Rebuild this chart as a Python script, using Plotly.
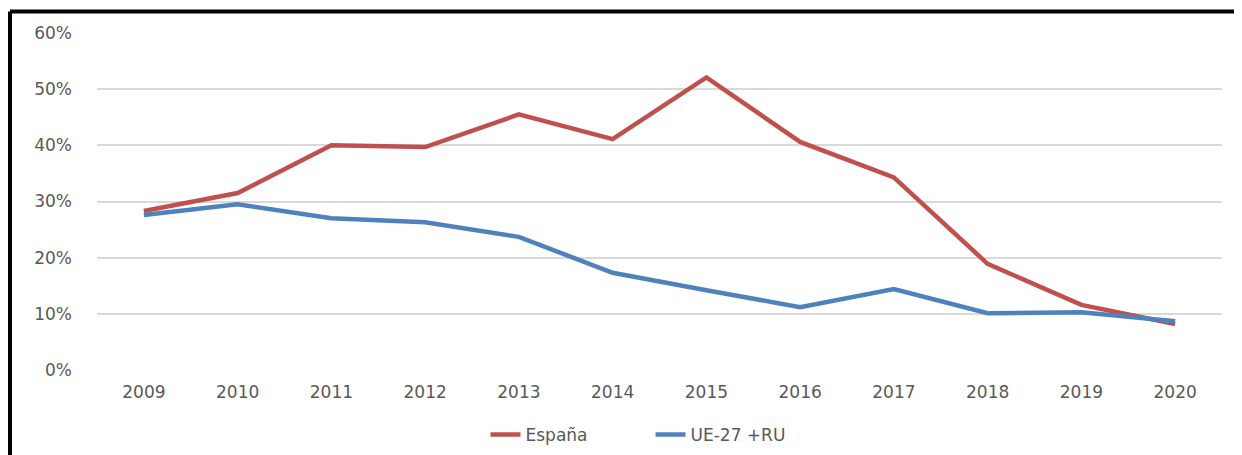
import plotly.graph_objects as go

years = ["2009", "2010", "2011", "2012", "2013", "2014",
         "2015", "2016", "2017", "2018", "2019", "2020"]
espana = [0.283, 0.315, 0.400, 0.397, 0.455, 0.411,
          0.521, 0.406, 0.343, 0.189, 0.116, 0.082]
ue27_ru = [0.276, 0.295, 0.270, 0.263, 0.237, 0.173,
           0.142, 0.112, 0.144, 0.101, 0.103, 0.087]

# the page body has an 8px margin, so the figure is made 8px smaller
OFF = 8
W, H = 1242 - OFF, 455 - OFF
L, R, T, B = 97 - OFF, 20, 33 - OFF, 85
pw, ph = W - L - R, H - T - B

fig = go.Figure()
fig.add_trace(go.Scatter(x=years, y=espana, mode="lines", name="España",
                         line=dict(color="#C0504D", width=4.5)))
fig.add_trace(go.Scatter(x=years, y=ue27_ru, mode="lines", name="UE-27 +RU",
                         line=dict(color="#4F81BD", width=4.5)))

# black frame on left and top edge
bx = (10 - OFF - L) / pw
by = 1 + (T - (11.5 - OFF)) / ph
fig.add_shape(type="line", xref="paper", yref="paper", x0=bx, x1=bx, y0=-0.5, y1=by,
              line=dict(color="black", width=4))
fig.add_shape(type="line", xref="paper", yref="paper", x0=bx, x1=1.2, y0=by, y1=by,
              line=dict(color="black", width=4))

tick_font = dict(family="DejaVu Sans", size=17, color="#595959")
fig.update_xaxes(type="category", range=[-0.5, 11.5], showgrid=False, showline=False,
                 ticks="", tickfont=tick_font, ticklabelstandoff=10, automargin=False)
fig.update_yaxes(range=[0, 0.6], dtick=0.1, tickformat=".0%", showline=False,
                 gridcolor="#D9D9D9", gridwidth=2, zeroline=False, automargin=False,
                 tickfont=tick_font, ticklabelstandoff=24)

legend_y = (H - (435 - OFF)) / H
fig.update_layout(
    width=W, height=H,
    margin=dict(l=L, r=R, t=T, b=B),
    paper_bgcolor="white", plot_bgcolor="white",
    font=dict(family="DejaVu Sans", color="#595959"),
    showlegend=True,
    legend=dict(orientation="h", xref="paper", x=0.492, xanchor="center",
                yref="container", y=legend_y, yanchor="middle", entrywidth=120,
                font=dict(family="DejaVu Sans", size=17, color="#595959")),
)

fig.write_html("out.html")
